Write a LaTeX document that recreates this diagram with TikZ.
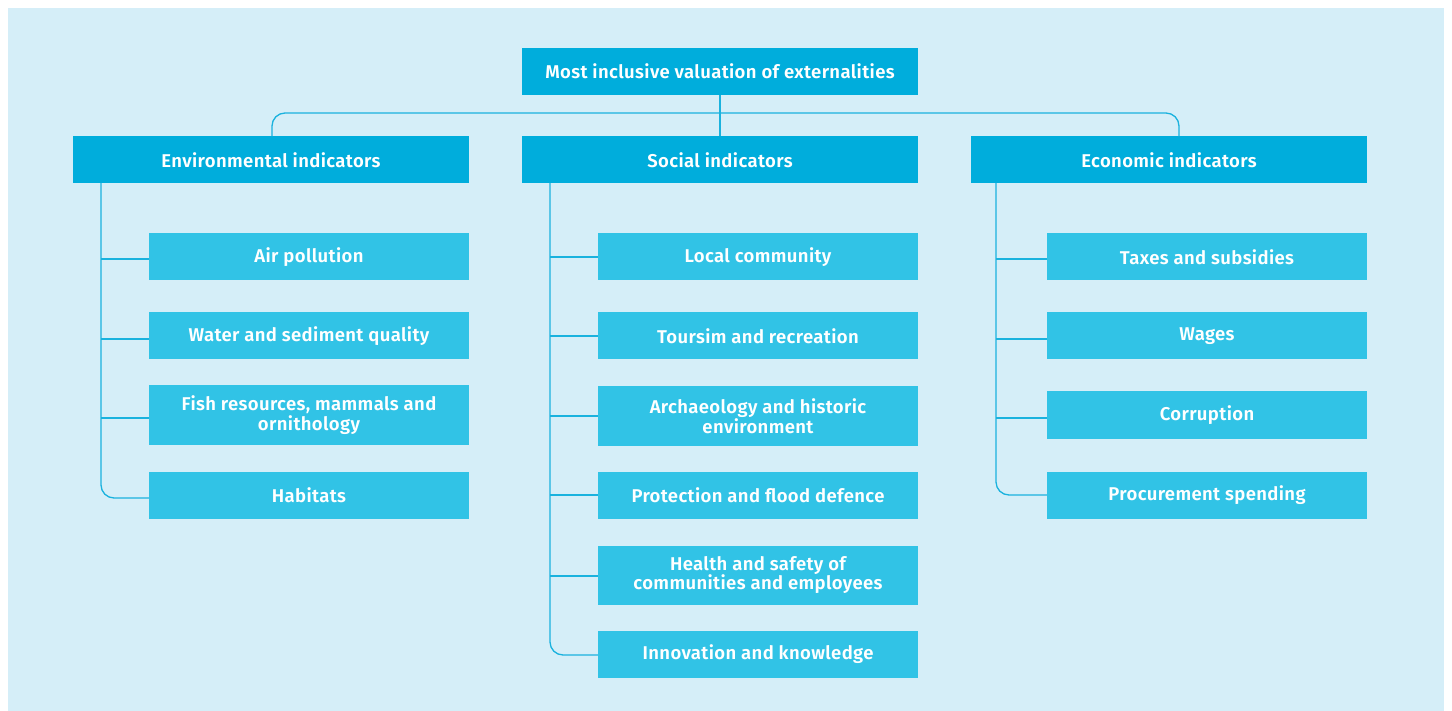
\documentclass[tikz,border=0pt]{standalone}
\usepackage{fontspec}
\setmainfont{Fira Sans}[BoldFont=Fira Sans SemiBold]
\definecolor{bgc}{HTML}{D5EEF8}
\definecolor{headc}{HTML}{00ADDC}
\definecolor{childc}{HTML}{31C3E6}
\definecolor{linec}{HTML}{1AB2DE}
\begin{document}
\begin{tikzpicture}[x=1pt,y=-1pt,
  boxfont/.style={font=\fontsize{18.5}{19.5}\selectfont\bfseries\addfontfeatures{LetterSpace=2}},
  headbox/.style={fill=headc,minimum width=396pt,minimum height=47pt,inner sep=0pt,text=white,boxfont,align=center},
  childbox/.style={fill=childc,minimum width=320pt,minimum height=47pt,inner sep=0pt,text=white,boxfont,align=center},
  tallbox/.style={childbox,minimum height=59pt},
  conn/.style={draw=linec,line width=1.3pt,rounded corners=13pt}]
\useasboundingbox (0,0) rectangle (1452,711);
\fill[white] (0,0) rectangle (1452,711);
\fill[bgc] (8,8) rectangle (1444,711);
% top
\node[headbox] (top) at (720,71.5) {Most inclusive valuation of externalities};
\node[headbox] (env) at (271,160) {Environmental indicators};
\node[headbox] (soc) at (720,160) {Social indicators};
\node[headbox] (eco) at (1169,160) {Economic indicators};
\coordinate (jl) at (272,113);
\coordinate (jr) at (1179,113);
\draw[conn] (env.north -| jl) -- (jl) -- (jr) -- (eco.north -| jr);
\draw[conn] (top.south) -- (soc.north);
% environmental
\node[childbox] (e1) at (309,257) {Air pollution};
\node[childbox] (e2) at (309,336) {Water and sediment quality};
\node[tallbox] (e3) at (309,415) {Fish resources, mammals and\\ornithology};
\node[childbox] (e4) at (309,495) {Habitats};
\coordinate (et) at (101,183);
\draw[conn] (et) -- (101,498) -- (e4.west |- 0,498);
\draw[conn,rounded corners=0pt] (101,259) -- (e1.west |- 0,259);
\draw[conn,rounded corners=0pt] (101,339) -- (e2.west |- 0,339);
\draw[conn,rounded corners=0pt] (101,418) -- (e3.west |- 0,418);
% social
\node[childbox] (s1) at (758,257) {Local community};
\node[childbox] (s2) at (758,336) {Toursim and recreation};
\node[tallbox] (s3) at (758,416) {Archaeology and historic\\environment};
\node[childbox] (s4) at (758,495) {Protection and flood defence};
\node[tallbox] (s5) at (758,575) {Health and safety of\\communities and employees};
\node[childbox] (s6) at (758,654) {Innovation and knowledge};
\coordinate (st) at (550,183);
\draw[conn] (st) -- (550,655) -- (s6.west |- 0,655);
\draw[conn,rounded corners=0pt] (550,257) -- (s1.west |- 0,257);
\draw[conn,rounded corners=0pt] (550,336) -- (s2.west |- 0,336);
\draw[conn,rounded corners=0pt] (550,416) -- (s3.west |- 0,416);
\draw[conn,rounded corners=0pt] (550,495) -- (s4.west |- 0,495);
\draw[conn,rounded corners=0pt] (550,576) -- (s5.west |- 0,576);
% economic
\node[childbox] (c1) at (1207,257) {Taxes and subsidies};
\node[childbox] (c2) at (1207,336) {Wages};
\node[childbox] (c3) at (1207,415) {Corruption};
\node[childbox] (c4) at (1207,495) {Procurement spending};
\coordinate (ct) at (996,183);
\draw[conn] (ct) -- (996,495) -- (c4.west |- 0,495);
\draw[conn,rounded corners=0pt] (996,259) -- (c1.west |- 0,259);
\draw[conn,rounded corners=0pt] (996,339) -- (c2.west |- 0,339);
\draw[conn,rounded corners=0pt] (996,418) -- (c3.west |- 0,418);
\end{tikzpicture}
\end{document}
